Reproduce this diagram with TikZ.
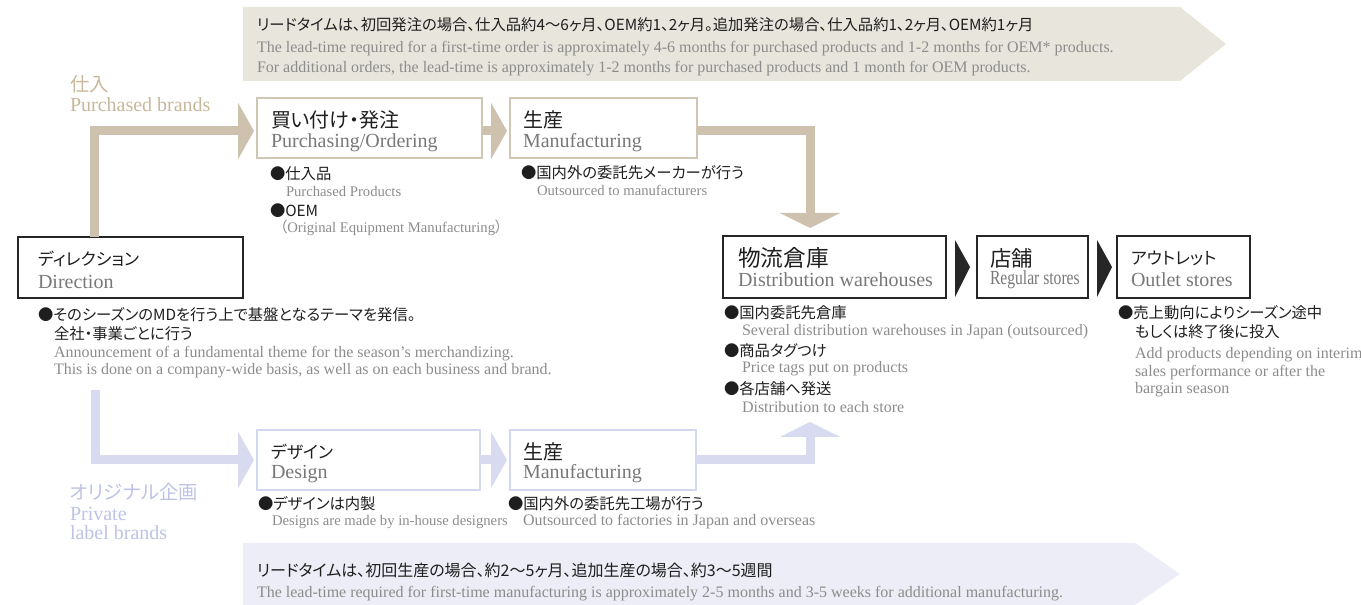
\documentclass[tikz,border=0pt]{standalone}
\usepackage{fontspec}
\usepackage{graphicx}
\setmainfont{Liberation Serif}
\newfontfamily\jp[RawFeature={+palt}]{Noto Sans CJK JP}
\usetikzlibrary{arrows.meta,calc}
\definecolor{tanbar}{RGB}{206,194,174}
\definecolor{tantext}{RGB}{200,184,155}
\definecolor{tanline}{RGB}{208,198,180}
\definecolor{lavbar}{RGB}{216,219,240}
\definecolor{lavtext}{RGB}{190,194,228}
\definecolor{lavline}{RGB}{212,216,238}
\definecolor{topfill}{RGB}{231,229,220}
\definecolor{botfill}{RGB}{236,237,246}
\definecolor{ink}{RGB}{30,30,30}
\definecolor{greyt}{RGB}{120,120,120}
\definecolor{greys}{RGB}{140,140,140}
\tikzset{
  txt/.style={anchor=west,inner sep=0pt,outer sep=0pt},
  jpb/.style={txt,text=ink,font=\jp\fontsize{11.5}{13}\selectfont},
  ens/.style={txt,text=greys,font=\fontsize{11}{13}\selectfont},
  enl/.style={txt,text=greys,font=\fontsize{12}{14}\selectfont},
  ttl/.style={txt,text=ink,font=\jp\fontsize{15}{17}\selectfont},
  ttlk/.style={txt,text=ink,font=\jp\fontsize{12.7}{15}\selectfont},
  ttle/.style={txt,text=greyt,font=\fontsize{15}{17}\selectfont},
  bnjp/.style={txt,text=ink,font=\jp\fontsize{11.5}{13}\selectfont},
  bnen/.style={txt,text=greys,font=\fontsize{12}{14}\selectfont},
  brandjp/.style={txt,font=\jp\fontsize{14.5}{17}\selectfont},
  branden/.style={txt,font=\fontsize{15}{17}\selectfont},
  boxbase/.style={anchor=north west,inner sep=0pt,outer sep=0pt,minimum height=45pt},
  tanbox/.style={boxbase,draw=tanline,line width=1.1pt},
  lavbox/.style={boxbase,draw=lavline,line width=1.1pt},
  blkbox/.style={boxbase,draw=black!85,line width=0.9pt},
  tanarrow/.style={draw=tanbar,line width=6.75pt,-{Triangle[width=42pt,length=12pt]},shorten >=2.25pt},
  lavarrow/.style={draw=lavbar,line width=6.75pt,-{Triangle[width=42pt,length=12pt]},shorten >=2.25pt},
  tanvert/.style={draw=tanbar,line width=6.75pt,-{Triangle[width=45pt,length=11.25pt]},shorten >=6pt},
  lavvert/.style={draw=lavbar,line width=6.75pt,-{Triangle[width=45pt,length=11.25pt]}},
  tri/.style={fill=black!85}
}
\begin{document}
\begin{tikzpicture}[x=0.75pt,y=-0.75pt]
\useasboundingbox (0,0) rectangle (1361,605);

% banners
\fill[topfill] (243,7) -- (1180,7) -- (1226,44) -- (1180,81) -- (243,81) -- cycle;
\fill[botfill] (243,543) -- (1135,543) -- (1180,574) -- (1135,605) -- (243,605) -- cycle;
\node[bnjp] (topjp) at (257,25) {リードタイムは、初回発注の場合、仕入品約4〜6ヶ月、OEM約1、2ヶ月。追加発注の場合、仕入品約1、2ヶ月、OEM約1ヶ月};
\node[bnen] (topen1) at (257,49) {The lead-time required for a first-time order is approximately 4-6 months for purchased products and 1-2 months for OEM* products.};
\node[bnen] (topen2) at (257,69) {For additional orders, the lead-time is approximately 1-2 months for purchased products and 1 month for OEM products.};
\node[bnjp,font=\jp\fontsize{12}{14}\selectfont] (botjp) at (257,570) {リードタイムは、初回生産の場合、約2〜5ヶ月、追加生産の場合、約3〜5週間};
\node[bnen] (boten) at (257,594) {The lead-time required for first-time manufacturing is approximately 2-5 months and 3-5 weeks for additional manufacturing.};

% brand labels
\node[brandjp,text=tantext] (pbjp) at (70,84) {仕入};
\node[branden,text=tantext] (pben) at (70,105) {Purchased brands};
\node[brandjp,text=lavtext] (pljp) at (70,492) {オリジナル企画};
\node[branden,text=lavtext] (plen1) at (70,514) {Private};
\node[branden,text=lavtext] (plen2) at (70,533) {label brands};

% boxes
\node[blkbox,minimum width=168.75pt,minimum height=45.75pt] (dir) at (18,237) {};
\node[tanbox,minimum width=168.75pt] (buy) at (257,98) {};
\node[tanbox,minimum width=140.25pt] (mfgA) at (510,98) {};
\node[lavbox,minimum width=167.25pt] (des) at (257,430) {};
\node[lavbox,minimum width=139.5pt] (mfgB) at (510,430) {};
\node[blkbox,minimum width=167.25pt,minimum height=46.5pt] (wh) at (723,236) {};
\node[blkbox,minimum width=83.25pt,minimum height=46.5pt] (reg) at (977,236) {};
\node[blkbox,minimum width=99.75pt,minimum height=46.5pt] (out) at (1117,236) {};

% box titles
\node[ttlk] (dirjp) at (38,259) {ディレクション};
\node[ttle] (diren) at (38,282) {Direction};
\node[ttl] (buyjp) at (271,120) {買い付け・発注};
\node[ttle] (buyen) at (271,143) {Purchasing/Ordering};
\node[ttl] (mfgAjp) at (523,120) {生産};
\node[ttle] (mfgAen) at (523,143) {Manufacturing};
\node[ttlk] (desjp) at (271,452) {デザイン};
\node[ttle] (desen) at (271,474) {Design};
\node[ttl] (mfgBjp) at (523,452) {生産};
\node[ttle] (mfgBen) at (523,474) {Manufacturing};
\node[ttl,font=\jp\fontsize{17}{19}\selectfont] (whjp) at (738,258) {物流倉庫};
\node[ttle] (when) at (738,280) {Distribution warehouses};
\node[ttl,font=\jp\fontsize{16}{18}\selectfont] (regjp) at (990,258) {店舗};
\node[ttle] (regen) at (990,280) {\scalebox{0.78}[1]{Regular stores}};
\node[ttlk] (outjp) at (1131,258) {アウトレット};
\node[ttle] (outen) at (1131,280) {Outlet stores};

% black triangles
\fill[tri] ($(wh.north east)+(9,4)$) -- ($(wh.south east)+(9,-1)$) -- ($(wh.east)+(24,0)$) -- cycle;
\fill[tri] ($(reg.north east)+(9,4)$) -- ($(reg.south east)+(9,-1)$) -- ($(reg.east)+(24,0)$) -- cycle;

% descriptions
\node[jpb] (d1) at (38,315) {●そのシーズンのMDを行う上で基盤となるテーマを発信。};
\node[jpb] (d2) at (54,334) {全社・事業ごとに行う};
\node[enl] (d3) at (54,354) {Announcement of a fundamental theme for the season's merchandizing.};
\node[enl] (d4) at (54,371) {This is done on a company-wide basis, as well as on each business and brand.};

\node[jpb] (b1) at (270,174) {●仕入品};
\node[ens] (b2) at (286,191) {Purchased Products};
\node[jpb] (b3) at (270,211) {●OEM};
\node[ens] (b4) at (280,228) {{\jp （}Original Equipment Manufacturing{\jp ）}};

\node[jpb] (m1) at (521,173) {●国内外の委託先メーカーが行う};
\node[ens] (m2) at (537,190) {Outsourced to manufacturers};

\node[jpb] (s1) at (258,504) {●デザインは内製};
\node[ens] (s2) at (272,522) {Designs are made by in-house designers};
\node[jpb] (n1) at (508,504) {●国内外の委託先工場が行う};
\node[enl] (n2) at (523,522) {Outsourced to factories in Japan and overseas};

\node[jpb] (w1) at (724,313) {●国内委託先倉庫};
\node[enl] (w2) at (742,332) {Several distribution warehouses in Japan (outsourced)};
\node[jpb] (w3) at (724,351) {●商品タグつけ};
\node[enl] (w4) at (742,369) {Price tags put on products};
\node[jpb] (w5) at (724,389) {●各店舗へ発送};
\node[enl] (w6) at (742,407) {Distribution to each store};

\node[jpb] (o1) at (1118,313) {●売上動向によりシーズン途中};
\node[jpb] (o2) at (1135,332) {もしくは終了後に投入};
\node[enl] (o3) at (1135,355) {Add products depending on interim};
\node[enl] (o4) at (1135,373) {sales performance or after the};
\node[enl] (o5) at (1135,390) {bargain season};

% connectors
\draw[tanarrow] ([xshift=57pt]dir.north west) |- ([yshift=-2.25pt]buy.west);
\draw[tanarrow] ([yshift=-2.25pt]buy.east) -- ([yshift=-2.25pt]mfgA.west);
\draw[tanvert] ([yshift=-2.25pt]mfgA.east) -| ([xshift=65.25pt]wh.north west);

\coordinate (plstart) at (95,390);
\coordinate (whin) at (810,422);
\draw[lavarrow] (plstart) |- (des.west);
\draw[lavarrow] (des.east) -- (mfgB.west);
\draw[lavvert] (mfgB.east) -| (whin);
\end{tikzpicture}
\end{document}
